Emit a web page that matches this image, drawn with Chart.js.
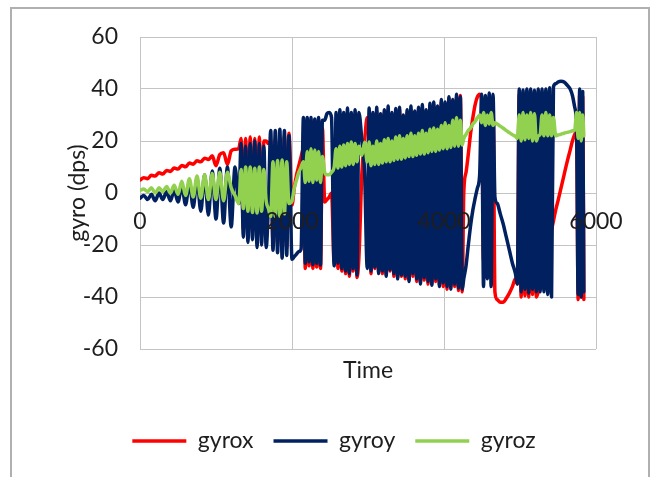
<!DOCTYPE html>
<html>
<head>
<meta charset="utf-8">
<title>gyro</title>
<script src="https://cdn.jsdelivr.net/npm/chart.js@4.4.0/dist/chart.umd.min.js"></script>
<style>
  html, body { margin: 0; padding: 0; background: #fff; overflow: hidden; }
  #wrap { position: relative; width: 656px; height: 477px; }
  #frame { position: absolute; left: 10px; top: 7px; width: 636px; height: 500px; border: 2px solid #b0b0b0; pointer-events: none; }
</style>
</head>
<body>
<div id="wrap">
  <canvas id="gyroChart" width="656" height="477"></canvas>
  <div id="frame"></div>
</div>
<script>
// time stamps shared by the three series
const time = [
  0, 50, 100, 150, 200, 250, 300, 350, 400, 450, 500, 550, 600, 650, 700, 750, 800, 850, 900, 950, 1000, 1050, 1100, 1150, 1200, 1250, 1300,
  1330, 1360, 1390, 1420, 1450, 1480, 1510, 1540, 1570, 1600, 1630,
  1660, 1690, 1720, 1750, 1780, 1810, 1840, 1870, 1900, 1930, 1960,
  2000, 2030, 2060, 2090, 2120,
  2150, 2175, 2200, 2225, 2250, 2275, 2300, 2325, 2350, 2375, 2400,
  2430, 2460, 2490, 2520,
  2555, 2580, 2605, 2630, 2655, 2680, 2705, 2730, 2755, 2780, 2805, 2830, 2855, 2880,
  2920, 2955,
  2990, 3015, 3040, 3065, 3090, 3115, 3140, 3165, 3190, 3215,
  3240, 3265, 3290, 3315, 3340, 3365, 3390, 3415, 3440, 3465,
  3490, 3515, 3540, 3565, 3590, 3615, 3640, 3665, 3690, 3715,
  3740, 3765, 3790, 3815, 3840, 3865, 3890, 3915, 3940, 3965,
  3990, 4015, 4040, 4065, 4090, 4115, 4140, 4165, 4190, 4215,
  4240,
  4260, 4290, 4320, 4350, 4380, 4410, 4440, 4470,
  4495, 4520, 4545, 4570, 4595, 4620, 4645, 4670,
  4700, 4740, 4780, 4820, 4860, 4900, 4940,
  4965, 4990, 5015, 5040, 5065, 5090, 5115, 5140, 5165, 5190, 5215, 5240,
  5265,
  5290, 5315, 5340, 5365, 5390, 5415, 5440,
  5470, 5500, 5540, 5580, 5620, 5660, 5690, 5720,
  5745, 5765, 5785, 5805, 5825, 5840
];

const gyrox = [
  5.0, 5.9, 5.5, 6.8, 6.5, 7.8, 7.3, 8.7, 8.3, 9.6, 9.2, 10.6, 10.1, 11.5, 11.1, 12.4, 12.0, 13.4, 12.9, 14.3, 10.5, 14.8, 15.5, 11.0, 16.2, 16.8, 17.2,
  21, -14, 21, -16, 21.5, -15, 21, -18, 21.5, -17, 20,
  20, 19, 20, -19, 21, -20, 21, -21, 22, -21, 23,
  -4.6, 2, 7, 10.5, 14,
  17, -29, 26, -28, 27, -29, 26, -28.5, 27, -29, 25,
  -3.5, -2.5, -1.5, 0,
  -27, 26, -29, 28, -30, 27, -31, 28, -32, 27, -30, 28, -32.5, -25,
  8, 20,
  29, 29, -31, 30, -29, 31.5, -30.5, 29.5, -31, 31,
  -31.5, 32, -30, 30, -32, 31.5, -32.5, 32, -32, 29,
  -33, 31, -33.5, 32, -32, 30.5, -34, 32, -34.5, 33,
  -33.5, 31, -35, 33.5, -35, 34, -34, 32.5, -35.5, 35,
  -36, 34, -37, 36.5, -36, 35, -36, 37, -37.5, 37.5,
  -38,
  0, 8, 15, 23, 29, 34, 37, 38,
  36, -26, 35, -30, 36, -33, 36, -38,
  -41, -42, -42, -40.5, -38.5, -36, -33,
  -35, 38, -40, 38, -39.5, 39, -40, 38.5, -39, 38, -40, -38,
  -35,
  -31, -27.8, -24.4, -21, -17.6, -14.2, -10.8,
  -6.5, -3, 2, 7, 12, 16.5, 20, 22.5,
  24, -41, 38, -40, 37, -41
];

const gyroy = [
  -2, -1, -2.5, -0.5, -3, 0, -2.5, 0.5, -3, 1, -3.5, 2.5, -4.5, 4, -5.5, 5.5, -7, 7, -8.5, 8.5, -10, 9.5, -11.5, 10, -13, 10, -4,
  19, -17, 18, -19, 19, -18, 20, -21, 19, -20, 18,
  -21, -4, 24, -22, 24, -23, 24.5, -25, 24, -24, 22,
  -25.5, -24.5, -23.5, -22.5, -21.5,
  29, -27, 29, -26.5, 29, -27.5, 28.5, -27, 29, -27.7, 28,
  28, 30.5, 31, 29,
  -28, 31, -27, 32, -29, 31, -30, 32.7, -31, 31, -29, 32, -31.5, 31,
  20, 8,
  -29, 32.7, -30, 31, -28.5, 33, -31, 30.5, -30, 32,
  -32, 33.5, -29.5, 31, -31, 32.5, -33, 33, -31.5, 30,
  -32, 32, -34, 33.5, -31, 31.5, -33, 33, -35, 34,
  -32.5, 32, -34, 34.5, -35.5, 35, -33, 33.5, -36, 36,
  -34.5, 35, -36, 37, -37, 36, -35, 38, -36.5, 37,
  -37,
  -33, -28, -20, -12.5, -6.5, -2, 2, 7.5,
  38, -36, 37.5, -33, 38.5, -36, 38, -1.5,
  -4, -8, -12, -17, -22, -27, -31,
  -35, 40, -38, 39.6, -37, 40, -38.5, 40, -37, 39.5, -38, 40,
  -38,
  40, -38, 40, -39, 40.5, -40, 40.8,
  42, 42.7, 43, 42.7, 41.5, 40, 37.5, 33,
  24, -39, 40, -40, 39, -38
];

const gyroz = [
  1, 1.5, 0.5, 2, 0, 2, 0.5, 2.5, 0, 3, -0.5, 4.5, -1, 5.5, -1.5, 6.5, -2, 7, -2.5, 7.5, -2.5, 8, -3, 8, 2, -1, -4,
  9, -6, 10, -7, 10, -7.5, 9.5, -7.7, 10, -7, 9,
  -3, -6, -9, 12, -9, 12.5, -9, 12.7, -8, 12, -4,
  -3, 2, 5, 8, 10,
  12, 4, 16, 4.5, 17, 4, 16.5, 5, 16, 4, 14,
  8, 7, 7, 8,
  10, 17, 9.6, 18, 10, 18.5, 10.5, 19, 11, 19.6, 11, 19, 12, 18,
  14.5, 19.5,
  12, 19.6, 10.5, 18, 11, 20, 11, 19, 11.5, 20.5,
  12, 21, 12, 20, 12.5, 21.5, 13, 22, 13, 21,
  13.5, 22, 14, 23, 14, 22, 14.5, 23, 15, 24,
  15, 23, 15.5, 24.5, 16, 25, 16, 24.5, 16.5, 26,
  17, 27, 17, 26, 17.5, 28, 18, 29, 18, 28,
  18.5,
  21, 22.5, 24, 25, 26.5, 27.5, 29, 30,
  27, 31, 26, 30, 26.5, 31, 26, 27,
  26.5, 25.7, 24.9, 24, 23.2, 22.4, 21.8,
  21, 30, 20, 31, 20.5, 30, 21, 31, 20, 30.5, 20, 22,
  22.5,
  30, 22, 31, 22, 30, 22, 29,
  22, 22.3, 22.6, 23, 23.3, 23.6, 23.9, 24.2,
  31, 21, 31, 20, 30, 22
];

const seriesNames = ["gyrox", "gyroy", "gyroz"];
const seriesColors = ["#ff0000", "#002060", "#92d050"];

const GRID = "#c4c4c4";
const TEXT = "#1e1e1e";
Chart.defaults.font.family = "Lato, 'Liberation Sans', sans-serif";
Chart.defaults.font.size = 23;
Chart.defaults.color = TEXT;

function makePoints(values) {
  return time.map((t, i) => ({ x: t, y: values[i] }));
}

const allValues = [gyrox, gyroy, gyroz];
const datasets = allValues.map((vals, i) => ({
  label: seriesNames[i],
  data: makePoints(vals),
  borderColor: seriesColors[i],
  backgroundColor: seriesColors[i],
  borderWidth: 3.5,
  borderCapStyle: "round",
  borderJoinStyle: "round",
  pointRadius: 0,
  cubicInterpolationMode: "monotone",
  order: 3 - i   // green on top, red at the bottom
}));

let ctx = document.getElementById("gyroChart").getContext("2d");
new Chart(ctx, {
  type: "line",
  data: { datasets: datasets },
  options: {
    responsive: false,
    animation: false,
    layout: { padding: { left: 12, right: 0, top: 37, bottom: 14.5 } },
    plugins: {
      tooltip: { enabled: false },
      legend: {
        position: "bottom",
        labels: {
          usePointStyle: true,
          pointStyle: "line",
          pointStyleWidth: 54,
          padding: 20,
          color: TEXT,
          font: { size: 23 },
          sort: (a, b) => a.datasetIndex - b.datasetIndex
        }
      }
    },
    scales: {
      x: {
        type: "linear",
        min: 0,
        max: 6000,
        ticks: { display: false, stepSize: 2000 },
        grid: { color: GRID, lineWidth: 1, drawTicks: false },
        border: { display: false },
        title: { display: true, text: "Time", color: TEXT, padding: { top: 0, bottom: 24.7 } },
        afterFit: s => { s.height = 60.5; }
      },
      // tick labels sit on the zero line, drawn above the series like Excel does
      x2: {
        type: "linear",
        axis: "x",
        position: { y: 0 },
        min: 0,
        max: 6000,
        ticks: { stepSize: 2000, padding: 15, color: TEXT, z: 1, callback: v => String(v) },
        grid: { display: false, drawTicks: false },
        border: { display: false }
      },
      y: {
        min: -60,
        max: 60,
        ticks: { stepSize: 20, padding: 22, color: TEXT, callback: v => String(v) },
        grid: { color: GRID, lineWidth: 1, drawTicks: false },
        border: { display: false },
        title: { display: true, text: "gyro (dps)", color: TEXT, padding: { top: 52, bottom: 0 } },
        afterFit: s => { s.width = 128; }
      },
      yR: {
        position: "right",
        display: true,
        ticks: { display: false },
        grid: { display: false, drawTicks: false },
        border: { display: false },
        afterFit: s => { s.width = 60; }
      }
    }
  }
});
</script>
</body>
</html>
